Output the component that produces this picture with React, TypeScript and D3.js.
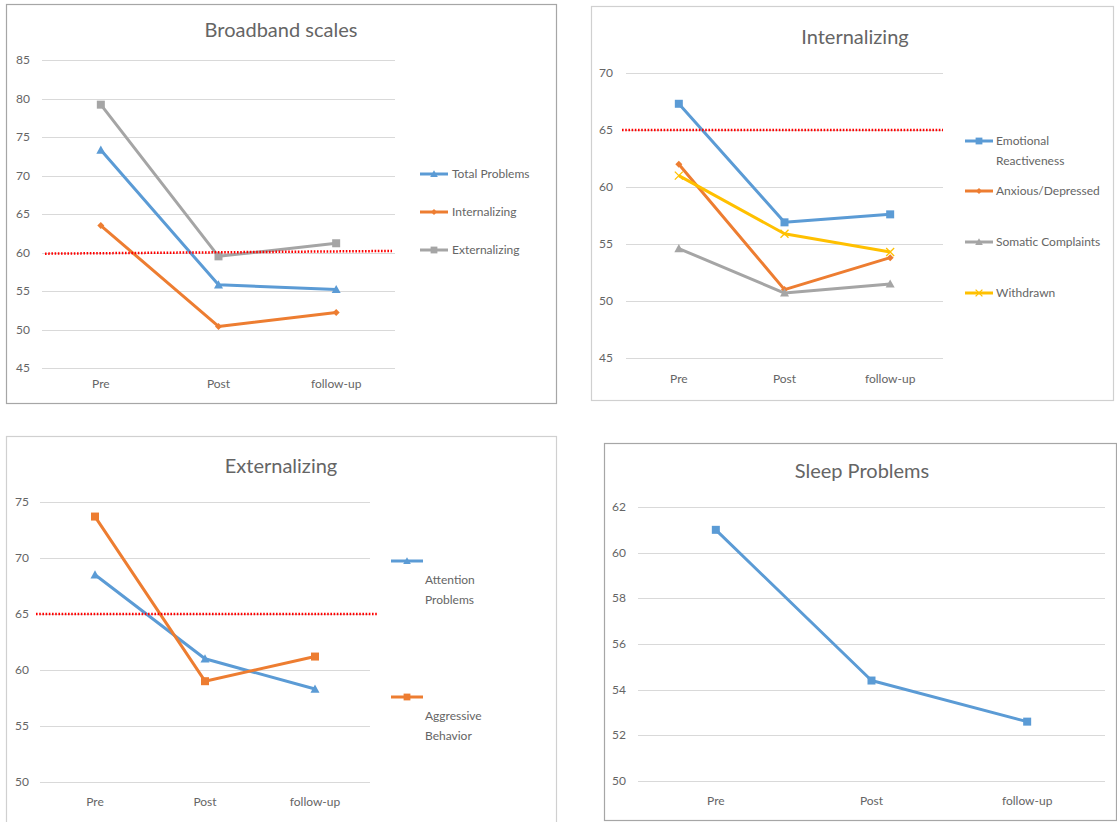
import React from "react";
import * as d3 from "d3";

// Measurement occasions
const occasions = ["Pre", "Post", "follow-up"];

// Broadband scales
const totalProblems = [73.3, 55.8, 55.2];
const internalizingBroad = [63.5, 50.4, 52.2];
const externalizingBroad = [79.2, 59.5, 61.2];
const broadTicks = [45, 50, 55, 60, 65, 70, 75, 80, 85];

// Internalizing subscales
const emotionalReactiveness = [67.3, 56.9, 57.6];
const anxiousDepressed = [62.0, 51.0, 53.8];
const somaticComplaints = [54.6, 50.7, 51.5];
const withdrawn = [61.0, 55.9, 54.3];
const internTicks = [45, 50, 55, 60, 65, 70];

// Externalizing subscales
const attentionProblems = [68.5, 61.0, 58.3];
const aggressiveBehavior = [73.7, 59.0, 61.2];
const externTicks = [50, 55, 60, 65, 70, 75];

// Sleep problems
const sleepProblems = [61.0, 54.4, 52.6];
const sleepTicks = [50, 52, 54, 56, 58, 60, 62];

const BLUE = "#5B9BD5";
const ORANGE = "#ED7D31";
const GRAY = "#A5A5A5";
const YELLOW = "#FFC000";
const TEXT = "#656565";
const FONT = "Lato, 'Open Sans', sans-serif";

type Marker = "square" | "triangle" | "diamond" | "x";

interface Series {
  name: string[];
  values: number[];
  color: string;
  marker: Marker;
  legendY: number; // y of the legend line sample
}

interface Panel {
  title: string;
  box: [number, number, number, number];
  border: string;
  plot: [number, number, number, number]; // x0, x1, yTop, yBottom
  ticks: number[];
  tickX: number;
  titleX: number;
  titleY: number;
  series: Series[];
  threshold?: { from: number; to: number; x0: number; x1: number };
  legendX: number;
  legendTextDx: number;
  legendTextDy: number;
  legendLineW: number;
  catY: number;
}

const panels: Panel[] = [
  {
    title: "Broadband scales",
    box: [6, 4, 556, 403],
    border: "#A6A6A6",
    plot: [42, 395, 60, 368],
    ticks: broadTicks,
    tickX: 30,
    titleX: 281,
    titleY: 37,
    threshold: { from: 59.85, to: 60.2, x0: 45, x1: 392 },
    legendX: 420,
    legendTextDx: 32,
    legendTextDy: 0,
    legendLineW: 28,
    catY: 388,
    series: [
      { name: ["Total Problems"], values: totalProblems, color: BLUE, marker: "triangle", legendY: 174 },
      { name: ["Internalizing"], values: internalizingBroad, color: ORANGE, marker: "diamond", legendY: 212 },
      { name: ["Externalizing"], values: externalizingBroad, color: GRAY, marker: "square", legendY: 250 },
    ],
  },
  {
    title: "Internalizing",
    box: [591, 6, 1113, 400],
    border: "#D0D0D0",
    plot: [626, 943, 73, 358],
    ticks: internTicks,
    tickX: 613,
    titleX: 855,
    titleY: 44,
    threshold: { from: 65, to: 65, x0: 622, x1: 943 },
    legendX: 965,
    legendTextDx: 31,
    legendTextDy: 0,
    legendLineW: 28,
    catY: 383,
    series: [
      { name: ["Emotional", "Reactiveness"], values: emotionalReactiveness, color: BLUE, marker: "square", legendY: 141 },
      { name: ["Anxious/Depressed"], values: anxiousDepressed, color: ORANGE, marker: "diamond", legendY: 191 },
      { name: ["Somatic Complaints"], values: somaticComplaints, color: GRAY, marker: "triangle", legendY: 242 },
      { name: ["Withdrawn"], values: withdrawn, color: YELLOW, marker: "x", legendY: 293 },
    ],
  },
  {
    title: "Externalizing",
    box: [6, 436, 556, 830],
    border: "#D0D0D0",
    plot: [40, 370, 502, 782],
    ticks: externTicks,
    tickX: 29,
    titleX: 281,
    titleY: 473,
    threshold: { from: 65, to: 65, x0: 36, x1: 378 },
    legendX: 391,
    legendTextDx: 34,
    legendTextDy: 19,
    legendLineW: 32,
    catY: 806,
    series: [
      { name: ["Attention", "Problems"], values: attentionProblems, color: BLUE, marker: "triangle", legendY: 561 },
      { name: ["Aggressive", "Behavior"], values: aggressiveBehavior, color: ORANGE, marker: "square", legendY: 697 },
    ],
  },
  {
    title: "Sleep Problems",
    box: [604, 443, 1116, 820],
    border: "#A6A6A6",
    plot: [638, 1105, 507, 781],
    ticks: sleepTicks,
    tickX: 626,
    titleX: 862,
    titleY: 478,
    legendX: 0,
    legendTextDx: 0,
    legendTextDy: 0,
    legendLineW: 0,
    catY: 805,
    series: [
      { name: ["Sleep Problems"], values: sleepProblems, color: BLUE, marker: "square", legendY: -1 },
    ],
  },
];

function MarkerShape({ type, x, y, color, s = 1 }: { type: Marker; x: number; y: number; color: string; s?: number }) {
  if (type === "square") {
    const h = 4 * s;
    return <rect x={x - h} y={y - h} width={2 * h} height={2 * h} fill={color} />;
  }
  if (type === "triangle") {
    const h = 4.5 * s;
    return <path d={`M${x},${y - h}L${x + h},${y + h * 0.8}L${x - h},${y + h * 0.8}Z`} fill={color} />;
  }
  if (type === "diamond") {
    const h = 3.5 * s;
    return <path d={`M${x},${y - h}L${x + h},${y}L${x},${y + h}L${x - h},${y}Z`} fill={color} />;
  }
  const h = 4 * s;
  return (
    <path
      d={`M${x - h},${y - h}L${x + h},${y + h}M${x - h},${y + h}L${x + h},${y - h}`}
      stroke={color}
      strokeWidth={1.3}
      fill="none"
    />
  );
}

function ChartPanel({ p }: { p: Panel }) {
  const [bx0, by0, bx1, by1] = p.box;
  const [px0, px1, pyTop, pyBot] = p.plot;
  const x = d3.scaleBand<string>().domain(occasions).range([px0, px1]);
  const y = d3
    .scaleLinear()
    .domain([d3.min(p.ticks)!, d3.max(p.ticks)!])
    .range([pyBot, pyTop]);
  const cx = (c: string) => (x(c) ?? 0) + x.bandwidth() / 2;
  const line = d3
    .line<number>()
    .x((_, i) => cx(occasions[i]))
    .y((v) => y(v));

  return (
    <g>
      <rect x={bx0 + 0.5} y={by0 + 0.5} width={bx1 - bx0} height={by1 - by0} fill="#fff" stroke={p.border} strokeWidth={1.2} />
      <text x={p.titleX} y={p.titleY} textAnchor="middle" fontSize={20} fill={TEXT} fontFamily={FONT}>
        {p.title}
      </text>
      {p.ticks.map((t) => (
        <g key={t}>
          <line x1={px0} x2={px1} y1={Math.round(y(t)) + 0.5} y2={Math.round(y(t)) + 0.5} stroke="#D9D9D9" strokeWidth={1} />
          <text x={p.tickX} y={y(t) + 4} textAnchor="end" fontSize={12} fill={TEXT} fontFamily={FONT}>
            {t}
          </text>
        </g>
      ))}
      {occasions.map((c) => (
        <text key={c} x={cx(c)} y={p.catY} textAnchor="middle" fontSize={12} fill={TEXT} fontFamily={FONT}>
          {c}
        </text>
      ))}
      {p.series.map((s) => (
        <g key={s.name.join(" ")}>
          <path d={line(s.values) ?? ""} fill="none" stroke={s.color} strokeWidth={3} strokeLinejoin="round" />
          {s.values.map((v, i) => (
            <MarkerShape key={i} type={s.marker} x={cx(occasions[i])} y={y(v)} color={s.color} />
          ))}
        </g>
      ))}
      {p.threshold && (
        <line
          x1={p.threshold.x0}
          x2={p.threshold.x1}
          y1={y(p.threshold.from)}
          y2={y(p.threshold.to)}
          stroke="#FF0000"
          strokeWidth={2.5}
          strokeDasharray="1.6 1.6"
        />
      )}
      {p.legendLineW > 0 &&
        p.series.map((s) => (
          <g key={"lg" + s.name.join(" ")}>
            <line
              x1={p.legendX}
              x2={p.legendX + p.legendLineW}
              y1={s.legendY}
              y2={s.legendY}
              stroke={s.color}
              strokeWidth={3}
            />
            <MarkerShape type={s.marker} x={p.legendX + p.legendLineW / 2} y={s.legendY} color={s.color} s={0.85} />
            {s.name.map((n, k) => (
              <text
                key={n}
                x={p.legendX + p.legendTextDx}
                y={s.legendY + p.legendTextDy + k * 20 + 4}
                fontSize={12}
                fill={TEXT}
                fontFamily={FONT}
              >
                {n}
              </text>
            ))}
          </g>
        ))}
    </g>
  );
}

export default function App() {
  return (
    <svg
      width={1117}
      height={822}
      style={{ position: "absolute", left: 0, top: 0, background: "#fff" }}
    >
      <rect width={1117} height={822} fill="#fff" />
      {panels.map((p) => (
        <ChartPanel key={p.title} p={p} />
      ))}
    </svg>
  );
}
